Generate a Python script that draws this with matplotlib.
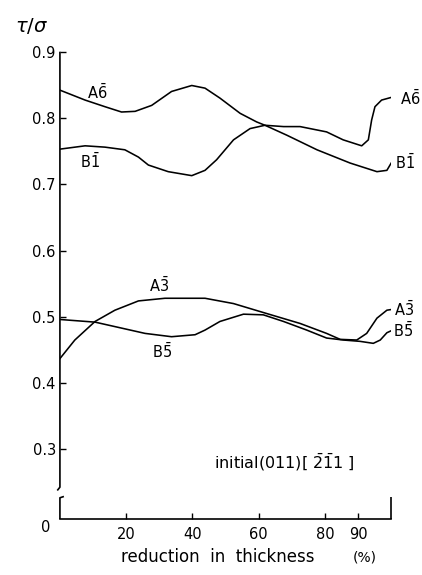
import matplotlib
matplotlib.use("Agg")
import matplotlib.pyplot as plt

plt.rcParams['font.family'] = 'DejaVu Sans'
plt.rcParams['mathtext.fontset'] = 'dejavusans'

# curves: reduction (%) vs tau/sigma
a6_x = [0, 7.6, 13.6, 18.6, 22.7, 27.7, 33.7, 39.8, 43.8, 48.3, 54.4, 59.4, 61.9,
        67.5, 72.5, 80.5, 85.5, 91.1, 93.1, 94.1, 95.1, 97.1, 100]
a6_y = [0.842, 0.827, 0.817, 0.809, 0.810, 0.819, 0.840, 0.849, 0.845, 0.830, 0.807, 0.794, 0.789,
        0.787, 0.787, 0.779, 0.767, 0.758, 0.767, 0.797, 0.817, 0.827, 0.831]

b1_x = [0, 7.6, 13.6, 19.6, 23.7, 26.7, 32.7, 39.8, 43.8, 47.3, 52.4, 57.4, 61.9,
        68.5, 77.6, 87.6, 95.7, 98.7, 100]
b1_y = [0.753, 0.758, 0.756, 0.752, 0.741, 0.729, 0.719, 0.713, 0.721, 0.737, 0.767, 0.784, 0.789,
        0.774, 0.752, 0.732, 0.719, 0.721, 0.732]

a3_x = [0, 4.5, 10.6, 16.6, 23.7, 31.7, 43.8, 52.4, 62.4, 72.5, 80.5, 84.6, 89.6,
        92.6, 95.7, 98.7, 100]
a3_y = [0.437, 0.465, 0.493, 0.510, 0.524, 0.528, 0.528, 0.520, 0.505, 0.490, 0.475, 0.466, 0.465,
        0.475, 0.498, 0.510, 0.511]

b5_x = [0, 10.6, 18.6, 25.7, 33.7, 40.8, 43.8, 48.3, 55.4, 61.4, 67.5, 74.5, 80.5,
        85.6, 90.6, 94.6, 96.7, 98.7, 100]
b5_y = [0.496, 0.492, 0.483, 0.475, 0.470, 0.473, 0.480, 0.493, 0.504, 0.503, 0.493, 0.480, 0.468,
        0.465, 0.463, 0.460, 0.465, 0.476, 0.479]

x_ticks = [20, 40, 60, 80, 90]
y_ticks = [0.3, 0.4, 0.5, 0.6, 0.7, 0.8, 0.9]
y_zero = 0.195   # where "0" sits below the axis break

fig = plt.figure(figsize=(4.22, 5.75), dpi=100)
ax = fig.add_axes([0.142, 0.0974, 0.785, 0.8127])

for xs, ys in [(a6_x, a6_y), (b1_x, b1_y), (a3_x, a3_y), (b5_x, b5_y)]:
    ax.plot(xs, ys, color='black', lw=1.15, solid_joinstyle='round')

ax.set_xlim(0, 100)
ax.set_ylim(y_zero, 0.9)
for s in ['top', 'right', 'left']:
    ax.spines[s].set_visible(False)
ax.spines['bottom'].set_linewidth(1.2)

# broken left axis + right end mark
k = dict(color='black', lw=1.2, clip_on=False, solid_capstyle='butt')
ax.plot([0, 0, -0.8], [0.9, 0.243, 0.238], **k)
ax.plot([1.2, 0, 0], [0.229, 0.227, y_zero], **k)
ax.plot([100, 100], [y_zero, 0.228], **k)

ax.set_xticks(x_ticks)
ax.set_xticklabels([str(t) for t in x_ticks])
ax.set_yticks(y_ticks)
ax.set_yticklabels([f'{t:.1f}' for t in y_ticks])
ax.tick_params(axis='both', direction='in', length=4, width=1.0, labelsize=10.5, pad=3)
ax.tick_params(axis='x', pad=6)
ax.text(-2.8, y_zero - 0.013, '0', ha='right', va='center', fontsize=10.5)

lab = dict(fontsize=10.5, ha='center', va='center')
ax.text(11.3, 0.838, r'A$\bar{6}$', **lab)
ax.text(9.1, 0.734, r'B$\bar{1}$', **lab)
ax.text(29.9, 0.548, r'A$\bar{3}$', **lab)
ax.text(30.8, 0.448, r'B$\bar{5}$', **lab)
ax.text(105.7, 0.830, r'A$\bar{6}$', clip_on=False, **lab)
ax.text(104.3, 0.733, r'B$\bar{1}$', clip_on=False, **lab)
ax.text(103.8, 0.511, r'A$\bar{3}$', clip_on=False, **lab)
ax.text(103.6, 0.479, r'B$\bar{5}$', clip_on=False, **lab)

ax.text(46.5, 0.281, r'initial(011)[ $\bar{2}\bar{1}$1 ]', fontsize=11.5, ha='left', va='center')

fig.text(0.075, 0.955, r'$\tau/\sigma$', fontsize=14, ha='center', va='center')
fig.text(0.515, 0.031, 'reduction  in  thickness', fontsize=12, ha='center', va='center')
fig.text(0.865, 0.031, '(%)', fontsize=10, ha='center', va='center')

fig.savefig('out.png', dpi=100)
